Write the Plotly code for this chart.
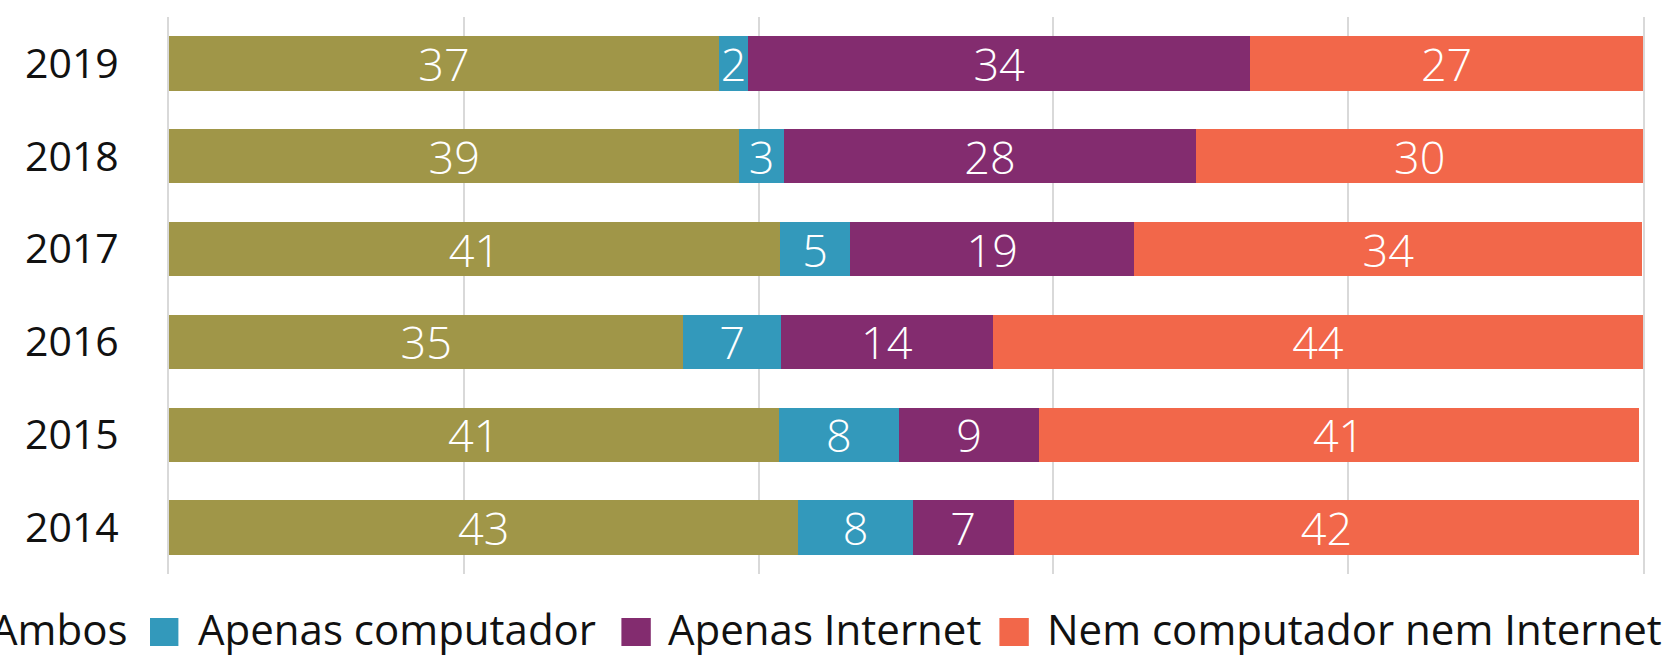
import plotly.graph_objects as go

years = ["2019", "2018", "2017", "2016", "2015", "2014"]
series_names = ["Ambos", "Apenas computador", "Apenas Internet", "Nem computador nem Internet"]
ambos = [37.3, 38.7, 41.45, 34.9, 41.35, 42.7]
apenas_computador = [2.0, 3.0, 4.75, 6.6, 8.2, 7.75]
apenas_internet = [34.05, 28.0, 19.3, 14.4, 9.45, 6.85]
nem = [26.65, 30.3, 34.45, 44.1, 40.7, 42.45]
colors = ["#A09648", "#3399BB", "#832C6F", "#F2674A"]

W, H = 1676, 656
L, R, T, B = 169, 33, 17, 82
PW, PH = W - L - R, H - T - B


def px_x(p):
    return (p - L) / PW


def px_y(p):
    return (H - B - p) / PH


fig = go.Figure()
for name, vals, col in zip(series_names, [ambos, apenas_computador, apenas_internet, nem], colors):
    fig.add_trace(go.Bar(
        y=years, x=vals, name=name, orientation="h",
        marker=dict(color=col, line=dict(width=0)),
        text=vals, texttemplate="%{x:.0f}", textposition="inside",
        insidetextanchor="middle", textangle=0, constraintext="none",
        textfont=dict(family="Open Sans", size=45, color="white", weight=300),
        showlegend=False, hoverinfo="skip",
    ))

# manual legend (matches the reference's large square keys and cropped layout)
legend_items = [
    # marker left px, marker right px, text x px, anchor
    (-60, -32, 128.6, "right"),
    (150, 178.4, 195.5, "left"),
    (621.4, 650.8, 665.8, "left"),
    (999.4, 1028.8, 1045, "left"),
]
shapes = []
annotations = []
for (m0, m1, tx, anc), name, col in zip(legend_items, series_names, colors):
    shapes.append(dict(type="rect", xref="paper", yref="paper",
                       x0=px_x(m0), x1=px_x(m1), y0=px_y(646), y1=px_y(618),
                       fillcolor=col, line=dict(width=0), layer="above"))
    annotations.append(dict(xref="paper", yref="paper", x=px_x(tx), y=px_y(628),
                            xanchor=anc, yanchor="middle", text=name, showarrow=False,
                            font=dict(family="Open Sans", size=42, color="#111111")))

fig.update_layout(
    barmode="stack", bargap=0.416,
    width=W, height=H,
    margin=dict(l=L, r=R, t=T, b=B, autoexpand=False),
    paper_bgcolor="white", plot_bgcolor="white",
    xaxis=dict(range=[0, 100], dtick=20, showticklabels=False, showgrid=True,
               gridcolor="#D9D9D9", gridwidth=2, zeroline=False, showline=False, fixedrange=True),
    yaxis=dict(autorange="reversed", showgrid=False, zeroline=False,
               showline=True, mirror=True, linecolor="#D9D9D9", linewidth=2, layer="below traces",
               ticks="", ticklabelstandoff=40, fixedrange=True,
               tickfont=dict(family="Open Sans", size=41, color="#111111")),
    shapes=shapes, annotations=annotations,
    showlegend=False,
)

fig.write_html("out.html", config={"displayModeBar": False},
               post_script="document.body.style.margin='0';document.body.style.overflow='hidden';")
